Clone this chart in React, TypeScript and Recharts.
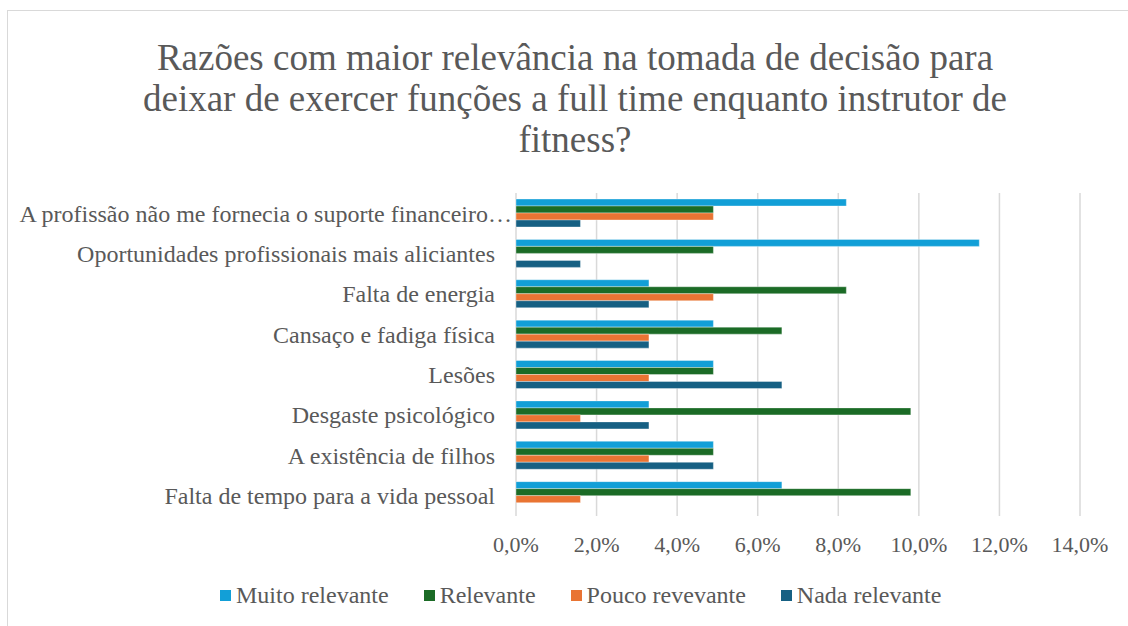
import { BarChart, Bar, XAxis, YAxis, CartesianGrid } from 'recharts';

const categories = [
  'A profissão não me fornecia o suporte financeiro…',
  'Oportunidades profissionais mais aliciantes',
  'Falta de energia',
  'Cansaço e fadiga física',
  'Lesões',
  'Desgaste psicológico',
  'A existência de filhos',
  'Falta de tempo para a vida pessoal',
];

const muitoRelevante = [8.2, 11.5, 3.3, 4.9, 4.9, 3.3, 4.9, 6.6];
const relevante = [4.9, 4.9, 8.2, 6.6, 4.9, 9.8, 4.9, 9.8];
const poucoRelevante = [4.9, 0, 4.9, 3.3, 3.3, 1.6, 3.3, 1.6];
const nadaRelevante = [1.6, 1.6, 3.3, 3.3, 6.6, 3.3, 4.9, 0];

const xTicks = [0, 2, 4, 6, 8, 10, 12, 14];

const titleLines = [
  'Razões com maior relevância na tomada de decisão para',
  'deixar de exercer funções a full time enquanto instrutor de',
  'fitness?',
];

const series = [
  { key: 'muito', name: 'Muito relevante', color: '#129fd7' },
  { key: 'relevante', name: 'Relevante', color: '#1b6b26' },
  { key: 'pouco', name: 'Pouco revevante', color: '#e97433' },
  { key: 'nada', name: 'Nada relevante', color: '#166083' },
];

const data = categories.map((name, i) => ({
  name,
  muito: muitoRelevante[i],
  relevante: relevante[i],
  pouco: poucoRelevante[i],
  nada: nadaRelevante[i],
}));

const font = '"Liberation Serif", "Times New Roman", serif';
const textColor = '#595959';

// first label in the source sits a bit to the right (Excel truncation), shift it
function CategoryTick(props: any) {
  const { x, y, payload, index } = props;
  const dx = index === 0 ? 17 : 0;
  return (
    <text x={x + dx} y={y} dy="0.35em" textAnchor="end" fill={textColor} fontSize={24} fontFamily={font}>
      {payload.value}
    </text>
  );
}

export default function App() {
  return (
    <div style={{ position: 'absolute', left: 0, top: 0, width: 1128, height: 626, background: '#fff', overflow: 'hidden' }}>
      <div
        style={{
          position: 'absolute',
          left: 7,
          top: 10,
          width: 1140,
          height: 640,
          border: '1.5px solid #d9d9d9',
          boxSizing: 'border-box',
        }}
      />
      <div
        style={{
          position: 'absolute',
          left: 7,
          top: 37,
          width: 1136,
          textAlign: 'center',
          fontFamily: font,
          fontSize: 37,
          lineHeight: '41px',
          color: textColor,
        }}
      >
        {titleLines.map((l) => (
          <div key={l}>{l}</div>
        ))}
      </div>
      <div style={{ position: 'absolute', left: 0, top: 0 }}>
        <BarChart
          layout="vertical"
          width={1128}
          height={626}
          data={data}
          margin={{ top: 193, right: 48, bottom: 80, left: 0 }}
          barGap={0}
          barSize={7}
        >
          <CartesianGrid horizontal={false} stroke="#d9d9d9" strokeWidth={1.5} />
          <XAxis
            type="number"
            domain={[0, 14]}
            ticks={xTicks}
            height={30}
            axisLine={false}
            tickLine={false}
            tickSize={0}
            tickMargin={20}
            tick={{ fill: textColor, fontSize: 22, fontFamily: font }}
            tickFormatter={(v: number) => `${v.toFixed(1).replace('.', ',')}%`}
          />
          <YAxis
            type="category"
            dataKey="name"
            width={516}
            axisLine={false}
            tickLine={false}
            tickSize={0}
            tickMargin={21}
            interval={0}
            tick={CategoryTick}
          />
          {series.map((s) => (
            <Bar
              key={s.key}
              dataKey={s.key}
              name={s.name}
              fill={s.color}
              stroke="rgba(255,255,255,0.35)"
              strokeWidth={1}
              isAnimationActive={false}
            />
          ))}
        </BarChart>
      </div>
      <div
        style={{
          position: 'absolute',
          left: 220,
          top: 580,
          display: 'flex',
          gap: 35,
          fontFamily: font,
          fontSize: 24,
          lineHeight: '30px',
          color: textColor,
          whiteSpace: 'nowrap',
        }}
      >
        {series.map((s) => (
          <div key={s.key} style={{ display: 'flex', alignItems: 'center' }}>
            <span style={{ width: 11, height: 11, background: s.color, display: 'inline-block', marginRight: 5 }} />
            <span>{s.name}</span>
          </div>
        ))}
      </div>
    </div>
  );
}
